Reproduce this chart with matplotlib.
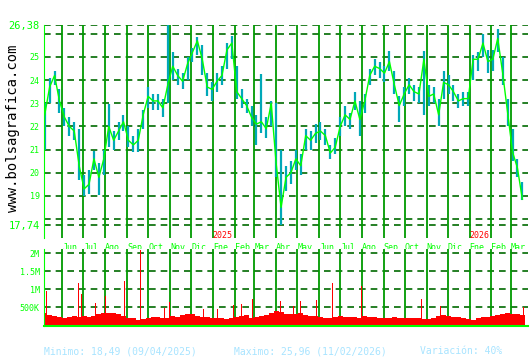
import numpy as np
import matplotlib
matplotlib.use("Agg")
import matplotlib.pyplot as plt
import matplotlib.dates as mdates

# semanas desde 2024-05-07
start = np.datetime64("2024-05-07")
close = [22.5, 23.7, 24.2, 23.1, 22.4, 22.0, 21.8, 20.3, 19.3, 19.5,
         20.6, 19.8, 20.6, 22.0, 21.4, 21.8, 22.2, 21.4, 21.2, 21.4,
         22.5, 23.3, 23.1, 23.1, 22.8, 23.8, 24.6, 24.2, 23.95, 24.7,
         25.2, 25.7, 24.9, 23.7, 23.6, 23.95, 24.2, 25.3, 25.6, 23.5,
         23.2, 22.9, 22.4, 22.1, 22.2, 21.9, 23.0, 20.4, 18.5, 19.8,
         20.0, 20.6, 20.3, 21.6, 21.4, 21.7, 21.8, 21.6, 20.85, 21.1,
         22.0, 22.5, 22.3, 23.1, 22.3, 23.1, 24.2, 24.6, 24.5, 24.3,
         24.8, 23.8, 22.9, 23.4, 23.8, 23.5, 23.4, 24.9, 23.3, 23.4,
         22.5, 23.9, 23.8, 23.5, 23.1, 23.2, 23.2, 24.9, 24.9, 25.6,
         24.8, 24.9, 25.8, 24.3, 22.6, 20.9, 20.2, 18.85]
high = [23.0, 24.1, 24.4, 23.6, 22.8, 22.4, 22.2, 21.9, 19.9, 20.1,
        20.95, 20.4, 21.0, 22.95, 21.8, 22.2, 22.5, 22.0, 21.6, 21.9,
        22.7, 23.7, 23.4, 23.4, 23.2, 26.38, 25.2, 24.5, 24.3, 25.0,
        25.4, 25.85, 25.5, 24.3, 23.9, 24.3, 24.6, 25.6, 25.9, 24.6,
        23.6, 23.2, 22.9, 22.5, 24.25, 22.4, 23.1, 23.0, 21.0, 20.3,
        20.5, 21.0, 20.8, 21.9, 21.8, 22.1, 22.2, 21.9, 21.2, 21.5,
        22.4, 22.9, 22.6, 23.5, 23.1, 23.4, 24.5, 24.9, 24.8, 24.6,
        25.26, 24.4, 23.3, 23.7, 24.1, 23.8, 23.7, 25.25, 23.8, 23.7,
        23.2, 24.4, 24.2, 23.8, 23.4, 23.5, 23.5, 25.1, 25.2, 25.98,
        25.3, 25.3, 26.2, 25.0, 23.2, 21.9, 20.6, 19.6]
low = [21.0, 23.0, 23.8, 22.6, 22.0, 21.6, 21.4, 19.7, 19.0, 19.1,
       20.1, 19.05, 19.9, 21.1, 21.0, 21.4, 21.8, 21.1, 20.9, 20.9,
       21.9, 22.8, 22.7, 22.7, 22.4, 23.0, 24.0, 23.8, 23.6, 24.0,
       24.8, 25.1, 24.2, 23.3, 23.1, 23.5, 23.8, 24.5, 24.9, 23.2,
       22.8, 22.6, 22.0, 21.2, 21.7, 21.5, 22.0, 19.8, 17.74, 19.2,
       19.5, 20.1, 19.9, 21.0, 21.0, 21.3, 21.4, 21.2, 20.6, 20.8,
       21.6, 22.0, 21.9, 22.7, 21.6, 22.6, 23.8, 24.2, 24.1, 23.9,
       24.4, 23.4, 22.2, 22.9, 23.4, 23.1, 23.0, 22.5, 22.9, 23.0,
       22.0, 23.2, 23.4, 23.1, 22.8, 22.9, 22.9, 24.0, 24.4, 25.0,
       24.3, 24.4, 25.2, 23.8, 22.0, 20.5, 19.8, 18.8]

# volumen base semanal (miles)
vol_base = [350, 280, 250, 220, 200, 230, 250, 220, 260, 230,
            250, 300, 330, 330, 350, 300, 250, 200, 190, 160,
            170, 200, 220, 230, 200, 210, 250, 230, 280, 300,
            320, 260, 230, 220, 200, 190, 200, 180, 210, 220,
            250, 280, 200, 230, 260, 280, 330, 400, 380, 300,
            320, 300, 350, 280, 260, 250, 230, 210, 200, 230,
            260, 240, 220, 230, 210, 250, 240, 220, 200, 210,
            200, 220, 190, 210, 200, 190, 200, 180, 170, 190,
            260, 280, 250, 230, 220, 200, 180, 150, 200, 230,
            220, 250, 280, 300, 330, 320, 300, 280]
spike_dates = ["2024-05-09", "2024-06-24", "2024-06-28", "2024-07-18", "2024-08-01",
               "2024-08-29", "2024-09-20", "2024-10-24", "2024-11-01", "2024-12-19",
               "2025-01-08", "2025-01-31", "2025-02-11", "2025-02-26", "2025-04-07",
               "2025-04-25", "2025-05-06", "2025-05-29", "2025-06-20", "2025-07-31",
               "2025-10-24", "2025-10-31", "2025-11-21", "2026-02-26", "2026-03-19"]
spike_vols = [960, 1170, 870, 630, 815, 1240, 2090, 470, 650, 450,
              450, 560, 580, 720, 675, 545, 675, 700, 1180, 1100,
              720, 700, 545, 1900, 510]

month_names = ["Jun", "Jul", "Ago", "Sep", "Oct", "Nov", "Dic", "Ene", "Feb", "Mar", "Abr",
               "May", "Jun", "Jul", "Ago", "Sep", "Oct", "Nov", "Dic", "Ene", "Feb", "Mar"]
month_starts = ["2024-06-01", "2024-07-01", "2024-08-01", "2024-09-01", "2024-10-01",
                "2024-11-01", "2024-12-01", "2025-01-01", "2025-02-01", "2025-03-01",
                "2025-04-01", "2025-05-01", "2025-06-01", "2025-07-01", "2025-08-01",
                "2025-09-01", "2025-10-01", "2025-11-01", "2025-12-01", "2026-01-01",
                "2026-02-01", "2026-03-01"]
years = ["2025", "2026"]
year_starts = ["2025-01-01", "2026-01-01"]

price_ticks = [17.74, 19, 20, 21, 22, 23, 24, 25, 26.38]
price_labels = ["17,74", "19", "20", "21", "22", "23", "24", "25", "26,38"]
price_grid = [17.74, 18, 19, 20, 21, 22, 23, 24, 25, 26, 26.38]
vol_ticks = [500, 1000, 1500, 2000]
vol_labels = ["500K", "1M", "1.5M", "2M"]

GREEN = "#00ff00"
GRID = "#006a00"
VLINE = "#009a00"
TEAL = "#00a8b8"
MONO = "DejaVu Sans Mono"


def main():
    dates = start + np.arange(len(close)) * 7
    d = mdates.date2num(dates.astype("datetime64[D]").astype(object))
    months = mdates.date2num([np.datetime64(m).astype(object) for m in month_starts])
    x0 = mdates.date2num(np.datetime64("2024-05-06").astype(object))
    x1 = mdates.date2num(np.datetime64("2026-03-25").astype(object))

    fig = plt.figure(figsize=(5.3, 3.6), dpi=100)
    ax = fig.add_axes([44 / 530, 1 - 238 / 360, 484 / 530, 213 / 360])
    axv = fig.add_axes([44 / 530, 1 - 326 / 360, 484 / 530, 77 / 360])

    # precio
    for g in price_grid:
        ax.axhline(g, color=GRID, lw=1.2, ls=(0, (4, 3)), zorder=1)
    for m in months:
        ax.axvline(m, color=VLINE, lw=1.3, zorder=1)
    ax.vlines(d, low, high, color=TEAL, lw=1.6, zorder=2)
    ax.plot(d, close, color=GREEN, lw=1.0, zorder=3)
    ax.set_xlim(x0, x1)
    ax.set_ylim(17.18, 26.38)
    ax.set_yticks(price_ticks)
    ax.set_yticklabels(price_labels, family=MONO, color=GREEN, fontsize=6)
    for lab in ax.get_yticklabels():
        if "," in lab.get_text():
            lab.set_fontsize(7.5)
    ax.set_xticks([])
    ax.tick_params(axis="y", length=0, pad=3)
    for s in ["top", "right", "bottom"]:
        ax.spines[s].set_visible(False)
    ax.spines["left"].set_color(GREEN)

    # etiquetas de meses entre paneles
    for m, name in zip(months, month_names):
        ax.text(m, -0.025, name, transform=ax.get_xaxis_transform(), ha="left", va="top",
                family=MONO, fontsize=6, color=GREEN, clip_on=False)
    for y, ys in zip(years, year_starts):
        yx = mdates.date2num(np.datetime64(ys).astype(object))
        ax.text(yx, 0.012, y, transform=ax.get_xaxis_transform(), ha="left", va="center",
                family=MONO, fontsize=6, color="red")

    # volumen
    for g in vol_ticks:
        axv.axhline(g, color=GRID, lw=1.2, ls=(0, (4, 3)), zorder=1)
    for m in months:
        axv.axvline(m, color=VLINE, lw=1.3, zorder=1)
    axv.bar(d, vol_base, width=7, color="red", zorder=2)
    sd = mdates.date2num([np.datetime64(s).astype(object) for s in spike_dates])
    axv.bar(sd, spike_vols, width=1.4, color="red", zorder=2)
    axv.set_xlim(x0, x1)
    axv.set_ylim(-20, 2120)
    axv.set_yticks(vol_ticks)
    axv.set_yticklabels(vol_labels, family=MONO, color=GREEN, fontsize=6)
    axv.set_xticks([])
    axv.tick_params(axis="y", length=0, pad=3)
    for s in ["top", "right"]:
        axv.spines[s].set_visible(False)
    axv.spines["left"].set_color(GREEN)
    axv.spines["bottom"].set_color(GREEN)
    axv.spines["bottom"].set_linewidth(1.5)

    fig.text(13 / 530, 1 - 128 / 360, "www.bolsagrafica.com", rotation=90, family=MONO,
             ha="center", va="center", fontsize=10, color="black")
    fig.text(44 / 530, 1 - 351 / 360, "Minimo: 18,49 (09/04/2025)", family=MONO, fontsize=7,
             color="#a8e4ff", va="center")
    fig.text(234 / 530, 1 - 351 / 360, "Maximo: 25,96 (11/02/2026)", family=MONO, fontsize=7,
             color="#a8e4ff", va="center")
    fig.text(420 / 530, 1 - 351 / 360, "Variación: 40%", family=MONO, fontsize=7,
             color="#a8e4ff", va="center")

    fig.savefig("out.png", dpi=100, facecolor="white")


if __name__ == "__main__":
    main()
